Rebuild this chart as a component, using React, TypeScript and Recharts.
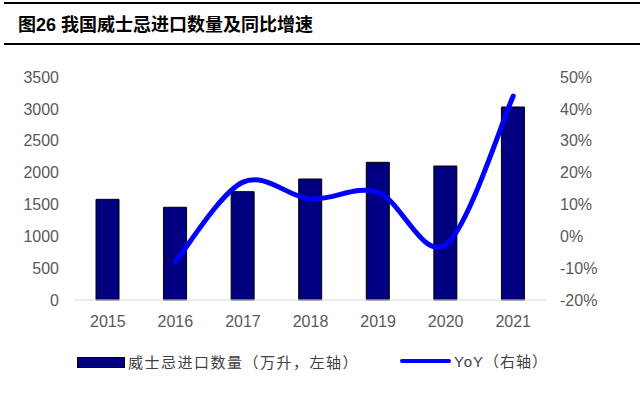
import React from "react";
import { ComposedChart, Bar, Line, XAxis, YAxis } from "recharts";

const years = ["2015", "2016", "2017", "2018", "2019", "2020", "2021"];
const importVolume = [1580, 1455, 1700, 1899, 2161, 2103, 3029];
const yoyPct: (number | null)[] = [null, -8.0, 17.0, 11.7, 13.8, -2.7, 44.0];
const leftTicks = [0, 500, 1000, 1500, 2000, 2500, 3000, 3500];
const rightTicks = [-20, -10, 0, 10, 20, 30, 40, 50];

const titleText = "图26 我国威士忌进口数量及同比增速";
const barLegend = "威士忌进口数量（万升，左轴）";
const lineLegend = "YoY（右轴）";

const data = years.map((y, i) => ({ year: y, volume: importVolume[i], yoy: yoyPct[i] }));

// Excel-style smoothed line (Catmull-Rom through the points)
function smoothCurve(context: any) {
  let pts: [number, number][] = [];
  return {
    areaStart() {},
    areaEnd() {},
    lineStart() {
      pts = [];
    },
    lineEnd() {
      if (!pts.length) return;
      context.moveTo(pts[0][0], pts[0][1]);
      if (pts.length === 1) {
        context.lineTo(pts[0][0], pts[0][1]);
        return;
      }
      for (let i = 0; i < pts.length - 1; i++) {
        const p0 = pts[i - 1] || pts[i];
        const p1 = pts[i];
        const p2 = pts[i + 1];
        const p3 = pts[i + 2] || pts[i + 1];
        context.bezierCurveTo(
          p1[0] + (p2[0] - p0[0]) / 6,
          p1[1] + (p2[1] - p0[1]) / 6,
          p2[0] - (p3[0] - p1[0]) / 6,
          p2[1] - (p3[1] - p1[1]) / 6,
          p2[0],
          p2[1]
        );
      }
    },
    point(x: number, y: number) {
      pts.push([+x, +y]);
    },
  };
}

const labelFont = '"Liberation Sans", Arial, "Noto Sans CJK SC", sans-serif';
const tickStyle = { fill: "#595959", fontSize: 16, fontFamily: labelFont };

export default function App() {
  return (
    <div style={{ position: "absolute", left: 0, top: 0, width: 640, height: 398, background: "#fff", overflow: "hidden" }}>
      <div style={{ position: "absolute", left: 4, right: 0, top: 2, height: 2, background: "#000" }} />
      <div
        style={{
          position: "absolute",
          left: 18,
          top: 12,
          fontSize: 18,
          fontWeight: 700,
          lineHeight: "26px",
          color: "#000",
          fontFamily: '"Liberation Sans", Arial, "Noto Sans CJK SC", sans-serif',
          whiteSpace: "nowrap",
        }}
      >
        {titleText}
      </div>
      <div style={{ position: "absolute", left: 4, right: 0, top: 43, height: 2, background: "#000" }} />

      <div style={{ position: "absolute", left: 0, top: 0 }}>
        <ComposedChart width={640} height={398} data={data} margin={{ top: 77, right: 0, bottom: 68, left: 0 }}>
          <XAxis
            dataKey="year"
            height={30}
            axisLine={{ stroke: "#d9d9d9", strokeWidth: 1 }}
            tickLine={false}
            tickSize={0}
            tickMargin={16}
            tick={tickStyle}
            interval={0}
          />
          <YAxis
            yAxisId="left"
            orientation="left"
            width={74}
            domain={[0, 3500]}
            ticks={leftTicks}
            axisLine={false}
            tickLine={false}
            tickSize={0}
            tickMargin={15}
            tick={tickStyle}
            interval={0}
          />
          <YAxis
            yAxisId="right"
            orientation="right"
            width={93}
            domain={[-20, 50]}
            ticks={rightTicks}
            axisLine={false}
            tickLine={false}
            tickSize={0}
            tickMargin={13}
            tick={{ ...tickStyle, textAnchor: "start" }}
            tickFormatter={(v: number) => `${v}%`}
            interval={0}
          />
          <Bar
            yAxisId="left"
            dataKey="volume"
            fill="#000080"
            stroke="#000000"
            strokeWidth={1}
            barSize={23}
            isAnimationActive={false}
          />
          <Line
            yAxisId="right"
            dataKey="yoy"
            type={smoothCurve as any}
            stroke="#0000ff"
            strokeWidth={5}
            strokeLinecap="round"
            dot={false}
            activeDot={false}
            isAnimationActive={false}
          />
        </ComposedChart>
      </div>

      <div style={{ position: "absolute", left: 77, top: 357, width: 46, height: 9, background: "#000080", border: "1px solid #000" }} />
      <div
        style={{
          position: "absolute",
          left: 128,
          top: 351,
          fontSize: 15,
          lineHeight: "22px",
          letterSpacing: "1.5px",
          color: "#404040",
          fontFamily: '"Noto Sans CJK SC", sans-serif',
          whiteSpace: "nowrap",
        }}
      >
        {barLegend}
      </div>
      <div style={{ position: "absolute", left: 400, top: 359, width: 51, height: 4, background: "#0000ff", borderRadius: 2 }} />
      <div
        style={{
          position: "absolute",
          left: 454,
          top: 351,
          fontSize: 15,
          lineHeight: "22px",
          letterSpacing: "1px",
          color: "#404040",
          fontFamily: '"Liberation Sans", Arial, "Noto Sans CJK SC", sans-serif',
          whiteSpace: "nowrap",
        }}
      >
        {lineLegend}
      </div>
    </div>
  );
}
